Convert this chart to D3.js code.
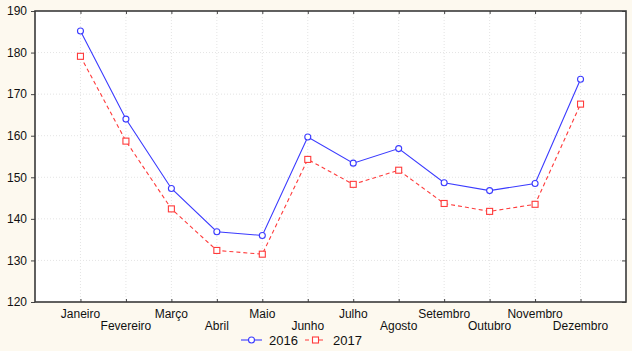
<!DOCTYPE html>
<html>
<head>
<meta charset="utf-8">
<script src="https://cdn.jsdelivr.net/npm/d3@7"></script>
<style>
  body { margin: 0; background: #fdf9ef; }
  svg { display: block; font-family: "Liberation Sans", Arial, sans-serif; }
</style>
</head>
<body>
<script>
// months and the two yearly series
var months = ["Janeiro", "Fevereiro", "Março", "Abril", "Maio", "Junho",
              "Julho", "Agosto", "Setembro", "Outubro", "Novembro", "Dezembro"];
var values2016 = [185.2, 164.0, 147.3, 136.9, 136.0, 159.7, 153.4, 156.9, 148.7, 146.8, 148.5, 173.6];
var values2017 = [179.1, 158.7, 142.4, 132.4, 131.5, 154.3, 148.3, 151.7, 143.7, 141.8, 143.5, 167.6];
var yTicks = [120, 130, 140, 150, 160, 170, 180, 190];
var seriesNames = ["2016", "2017"];

var outWidth = 632, outHeight = 351;
var margin = {top: 11, right: 6, bottom: 49, left: 35},
    width = outWidth - margin.left - margin.right,
    height = outHeight - margin.top - margin.bottom;

var xScale = d3.scalePoint().domain(months).range([0, width]).padding(1);
var yScale = d3.scaleLinear().domain([120, 190]).range([height, 0]);

var svg = d3.select("body").append("svg")
    .attr("width", outWidth)
    .attr("height", outHeight)
  .append("g")
    .attr("transform", "translate(" + margin.left + "," + margin.top + ")");

// white plot area
svg.append("rect")
    .attr("width", width)
    .attr("height", height)
    .attr("fill", "#fff");

// dotted grid
svg.append("g").selectAll("line")
    .data(yTicks.slice(1, -1))
    .enter().append("line")
    .attr("x1", 0).attr("x2", width)
    .attr("y1", function(d) { return yScale(d); })
    .attr("y2", function(d) { return yScale(d); })
    .attr("stroke", "#e4e4e4")
    .attr("stroke-dasharray", "1,2");
svg.append("g").selectAll("line")
    .data(months)
    .enter().append("line")
    .attr("x1", function(d) { return xScale(d); })
    .attr("x2", function(d) { return xScale(d); })
    .attr("y1", 0).attr("y2", height)
    .attr("stroke", "#e4e4e4")
    .attr("stroke-dasharray", "1,2");

// axes
var yAxis = d3.axisLeft(yScale).tickValues(yTicks).tickSize(4).tickPadding(4);
var yAxisR = d3.axisRight(yScale).tickValues(yTicks).tickSize(-4).tickFormat("");
var xAxis = d3.axisBottom(xScale).tickSize(-3).tickFormat("");
var xAxisT = d3.axisTop(xScale).tickSize(-3).tickFormat("");

function styleAxis(g) {
  g.select(".domain").remove();
  g.selectAll(".tick line").attr("stroke", "#444");
  g.selectAll(".tick text").attr("fill", "#111").style("font-size", "12px");
}

svg.append("g").call(yAxis).call(styleAxis);
svg.append("g").attr("transform", "translate(" + width + ",0)").call(yAxisR).call(styleAxis);
svg.append("g").attr("transform", "translate(0," + height + ")").call(xAxis).call(styleAxis);
svg.append("g").call(xAxisT).call(styleAxis);

// staggered month labels
svg.append("g").selectAll("text")
    .data(months)
    .enter().append("text")
    .attr("x", function(d) { return xScale(d); })
    .attr("y", function(d, i) { return height + (i % 2 === 0 ? 16 : 28); })
    .attr("text-anchor", "middle")
    .style("font-size", "12px")
    .attr("fill", "#111")
    .text(function(d) { return d; });

// frame
svg.append("rect")
    .attr("width", width)
    .attr("height", height)
    .attr("fill", "none")
    .attr("stroke", "#3a3a3a")
    .attr("stroke-width", 1.6);

var line = d3.line()
    .x(function(d, i) { return xScale(months[i]); })
    .y(function(d) { return yScale(d); });

// 2016 series
svg.append("path")
    .datum(values2016)
    .attr("d", line)
    .attr("fill", "none")
    .attr("stroke", "#3b3bff")
    .attr("stroke-width", 1.1);
svg.append("g").selectAll("circle")
    .data(values2016)
    .enter().append("circle")
    .attr("cx", function(d, i) { return xScale(months[i]); })
    .attr("cy", function(d) { return yScale(d); })
    .attr("r", 3)
    .attr("fill", "#fff")
    .attr("stroke", "#3b3bff")
    .attr("stroke-width", 1.1);

// 2017 series
svg.append("path")
    .datum(values2017)
    .attr("d", line)
    .attr("fill", "none")
    .attr("stroke", "#ff3b3b")
    .attr("stroke-width", 1.1)
    .attr("stroke-dasharray", "4,3");
svg.append("g").selectAll("rect")
    .data(values2017)
    .enter().append("rect")
    .attr("x", function(d, i) { return xScale(months[i]) - 3; })
    .attr("y", function(d) { return yScale(d) - 3; })
    .attr("width", 6)
    .attr("height", 6)
    .attr("fill", "#fff")
    .attr("stroke", "#ff3b3b")
    .attr("stroke-width", 1.1);

// legend
var legend = svg.append("g")
    .attr("transform", "translate(0," + (height + 38) + ")");
var l1 = legend.append("g").attr("transform", "translate(206,0)");
l1.append("line").attr("x1", 0).attr("x2", 21).attr("stroke", "#3b3bff").attr("stroke-width", 1.1);
l1.append("circle").attr("cx", 10.5).attr("r", 3).attr("fill", "#fff").attr("stroke", "#3b3bff").attr("stroke-width", 1.1);
l1.append("text").attr("x", 28).attr("y", 4.5).style("font-size", "13px").attr("fill", "#111").text(seriesNames[0]);

var l2 = legend.append("g").attr("transform", "translate(270,0)");
l2.append("line").attr("x1", 0).attr("x2", 21).attr("stroke", "#ff3b3b").attr("stroke-width", 1.1).attr("stroke-dasharray", "4,3");
l2.append("rect").attr("x", 7.5).attr("y", -3).attr("width", 6).attr("height", 6).attr("fill", "#fff").attr("stroke", "#ff3b3b").attr("stroke-width", 1.1);
l2.append("text").attr("x", 28).attr("y", 4.5).style("font-size", "13px").attr("fill", "#111").text(seriesNames[1]);
</script>
</body>
</html>
